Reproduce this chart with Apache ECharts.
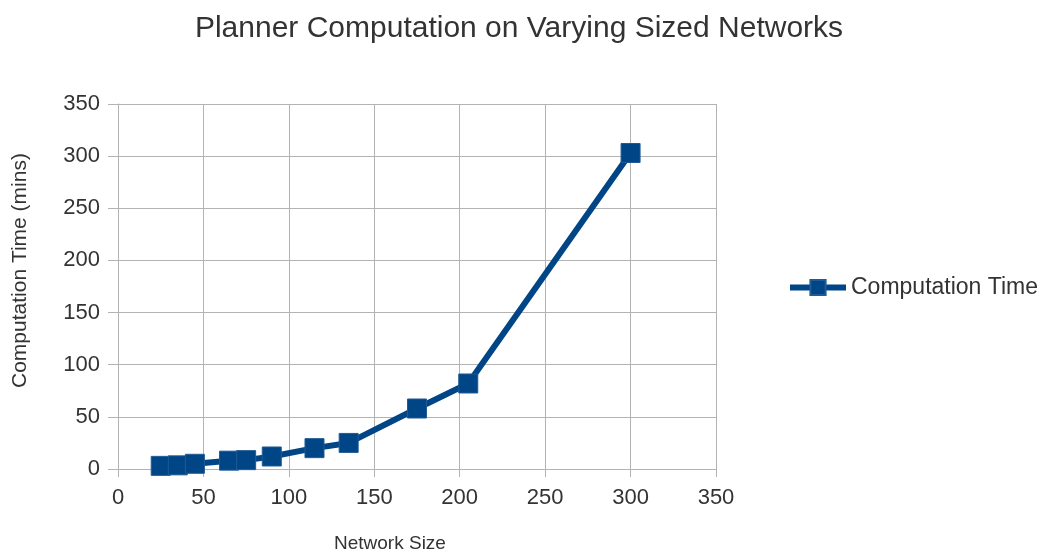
<!DOCTYPE html>
<html>
<head>
<meta charset="utf-8">
<script src="https://cdn.jsdelivr.net/npm/echarts@6/dist/echarts.min.js"></script>
<style>
  html, body { margin: 0; padding: 0; background: #fff; }
  #chart { width: 1042px; height: 552px; }
</style>
</head>
<body>
<div id="chart"></div>
<script>
// Network size (x) and planner computation time in minutes (y)
const networkSizes = [25, 35, 45, 65, 75, 90, 115, 135, 175, 205, 300];
const computationMins = [3, 3.5, 5, 8, 8.5, 12, 20, 25, 58, 82, 303];
const axisTicks = [0, 50, 100, 150, 200, 250, 300, 350];

const seriesData = networkSizes.map((x, i) => [x, computationMins[i]]);
const FONT = '"Liberation Sans", Arial, sans-serif';
const TEXT = '#333333';
const GRID = '#b3b3b3';
const BLUE = '#004586';

const chart = echarts.init(document.getElementById('chart'), null, { renderer: 'canvas' });
chart.setOption({
  animation: false,
  backgroundColor: '#ffffff',
  title: {
    text: 'Planner Computation on Varying Sized Networks',
    left: 514,
    top: 9,
    textAlign: 'center',
    textStyle: { fontFamily: FONT, fontSize: 30, fontWeight: 'normal', color: TEXT }
  },
  legend: {
    left: 787,
    top: 276,
    padding: 0,
    itemWidth: 56,
    itemHeight: 19,
    textStyle: { fontFamily: FONT, fontSize: 23, color: TEXT },
    lineStyle: { width: 6 },
    data: ['Computation Time']
  },
  // axis titles placed as free text
  graphic: [
    {
      type: 'text',
      left: 334,
      top: 534,
      style: { text: 'Network Size', font: '19px ' + FONT, fill: TEXT }
    },
    {
      type: 'text',
      x: 10,
      y: 388,
      rotation: Math.PI / 2,
      style: { text: 'Computation Time (mins)', font: '21px ' + FONT, fill: TEXT }
    }
  ],
  grid: { left: 118, right: 326, top: 104, bottom: 83, containLabel: false, outerBoundsMode: 'none' },
  xAxis: {
    type: 'value',
    min: axisTicks[0],
    max: axisTicks[axisTicks.length - 1],
    interval: 50,
    axisLine: { show: true, lineStyle: { color: GRID, width: 1 } },
    axisTick: { show: true, length: 8, lineStyle: { color: GRID } },
    axisLabel: { margin: 18, fontFamily: FONT, fontSize: 22, color: TEXT },
    splitLine: { show: true, lineStyle: { color: GRID, width: 1 } }
  },
  yAxis: {
    type: 'value',
    min: axisTicks[0],
    max: axisTicks[axisTicks.length - 1],
    interval: 50,
    axisLine: { show: true, lineStyle: { color: GRID, width: 1 } },
    axisTick: { show: true, length: 10, lineStyle: { color: GRID } },
    axisLabel: { margin: 18, fontFamily: FONT, fontSize: 22, color: TEXT },
    splitLine: { show: true, lineStyle: { color: GRID, width: 1 } }
  },
  series: [{
    name: 'Computation Time',
    type: 'line',
    data: seriesData,
    symbol: 'rect',
    symbolSize: 19,
    lineStyle: { color: BLUE, width: 6 },
    itemStyle: { color: BLUE, borderColor: '#1f5b96', borderWidth: 1 },
    emphasis: { disabled: true }
  }]
});
</script>
</body>
</html>
